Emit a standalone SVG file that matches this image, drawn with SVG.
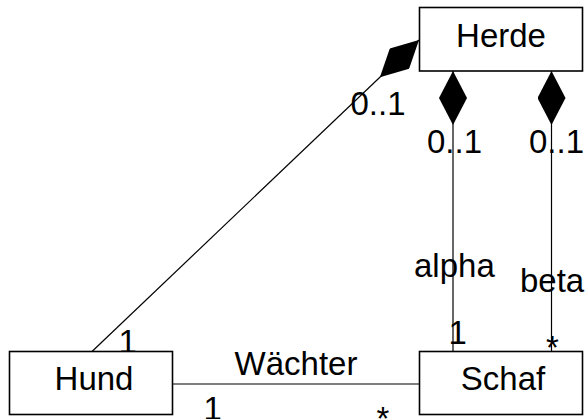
<svg xmlns="http://www.w3.org/2000/svg" width="585" height="419" viewBox="0 0 585 419">
  <style>
    .box { fill: #ffffff; stroke: #000000; stroke-width: 1.6; }
    .line { fill: none; stroke: #000000; stroke-width: 1.2; }
    .comp { marker-start: url(#diamond); }
    text { font-family: "Liberation Sans", Arial, sans-serif; font-size: 33px; fill: #000000; }
    .name { text-anchor: middle; }
    .mid { text-anchor: middle; }
  </style>
  <defs>
    <!-- filled diamond for composition ends, drawn along the path direction -->
    <marker id="diamond" markerUnits="userSpaceOnUse" viewBox="0 0 54 28" refX="0" refY="14" markerWidth="54" markerHeight="28" orient="auto">
      <path d="M0,14 L27,0 L54,14 L27,28 Z" fill="#000000"/>
    </marker>
  </defs>

  <rect width="585" height="419" fill="#ffffff"/>

  <g id="connectors">
    <path class="line comp" d="M419,40 L92,351.5"/>
    <path class="line comp" d="M453,71 L453,351.5"/>
    <path class="line comp" d="M551.5,71 L551.5,351.5"/>
    <path class="line" d="M172,384 L419,384"/>

    <text x="350.5" y="115">0..1</text>
    <text x="118.5" y="353">1</text>
    <text x="427" y="153">0..1</text>
    <text x="529" y="153">0..1</text>
    <text x="414" y="277">alpha</text>
    <text x="520" y="292">beta</text>
    <text x="448.5" y="344">1</text>
    <text class="mid" x="552.5" y="359">*</text>
    <text class="mid" x="296" y="375">Wächter</text>
    <text x="203.5" y="420">1</text>
    <text class="mid" x="383" y="430">*</text>
  </g>

  <g id="herde">
    <rect class="box" x="419.5" y="7.5" width="163" height="63.5"/>
    <text class="name" x="501" y="47">Herde</text>
  </g>

  <g id="hund">
    <rect class="box" x="9.5" y="351.5" width="163" height="63"/>
    <text class="name" x="94" y="390">Hund</text>
  </g>

  <g id="schaf">
    <rect class="box" x="419.5" y="351.5" width="163" height="63"/>
    <text class="name" x="503" y="390">Schaf</text>
  </g>
</svg>
